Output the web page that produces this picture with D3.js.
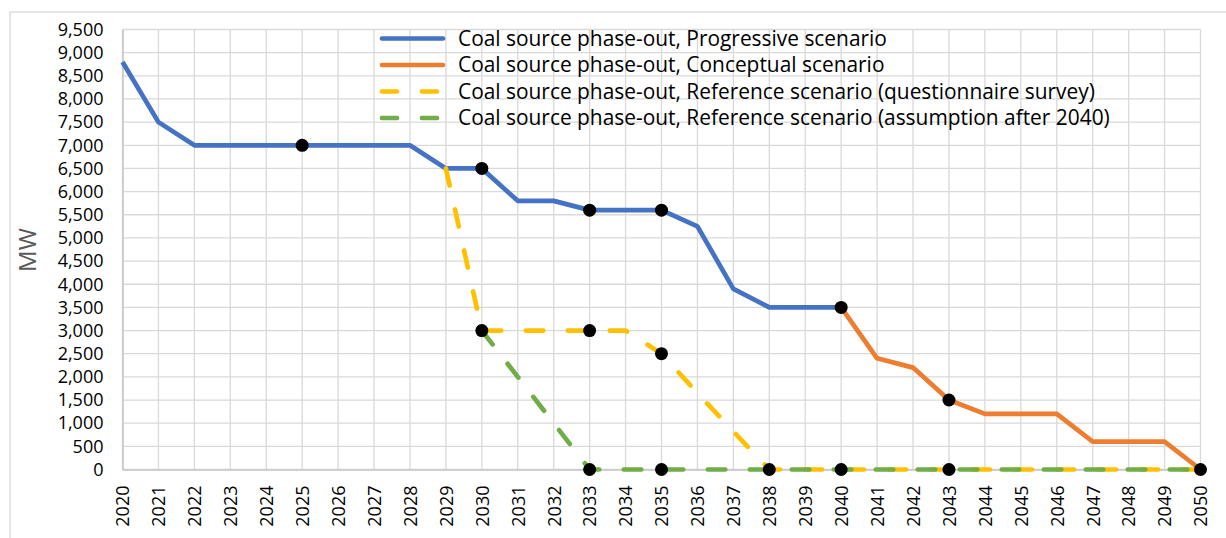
<!DOCTYPE html>
<html><head><meta charset="utf-8">
<script src="https://cdn.jsdelivr.net/npm/d3@7"></script>
<style>html,body{margin:0;padding:0;background:#fff;overflow:hidden}</style>
</head><body>
<svg id="c" width="1226" height="538"></svg>
<script>
const years = d3.range(2020, 2051);
const progressive = [8800,7500,7000,7000,7000,7000,7000,7000,7000,6500,6500,5800,5800,5600,5600,5600,5250,3900,3500,3500,3500,null,null,null,null,null,null,null,null,null,null];
const conceptual = [null,null,null,null,null,null,null,null,null,null,null,null,null,null,null,null,null,null,null,null,3500,2400,2200,1500,1200,1200,1200,600,600,600,0];
const refSurvey = [null,null,null,null,null,null,null,null,null,6500,3000,3000,3000,3000,3000,2500,1650,820,0,0,0,0,0,0,0,0,0,0,0,0,0];
const refAssumption = [null,null,null,null,null,null,null,null,null,null,3000,2000,1000,0,0,0,0,0,0,0,0,0,0,0,0,0,0,0,0,0,0];
const markers = [[2025,7000],[2030,6500],[2030,3000],[2033,5600],[2033,3000],[2033,0],[2035,5600],[2035,2500],[2035,0],[2038,0],[2040,3500],[2040,0],[2043,1500],[2043,0],[2050,0]];
const yTicks = d3.range(0, 9501, 500);
const seriesNames = ["Coal source phase-out, Progressive scenario","Coal source phase-out, Conceptual scenario","Coal source phase-out, Reference scenario (questionnaire survey)","Coal source phase-out, Reference scenario (assumption after 2040)"];
const colors = ["#4472C4","#ED7D31","#FFC000","#70AD47"];
const dashed = [false,false,true,true];

const svg = d3.select("#c");
const font = "'Open Sans', sans-serif";
svg.append("rect").attr("x",10).attr("y",12).attr("width",1230).attr("height",540).attr("fill","none").attr("stroke","#d9d9d9").attr("stroke-width",1.3);

const x = d3.scaleLinear().domain([2020,2050]).range([122.5,1200.5]);
const y = d3.scaleLinear().domain([0,9500]).range([469.5,29.5]);

// grid
const g = svg.append("g");
g.selectAll(".hg").data(yTicks).enter().append("line")
 .attr("x1",x(2020)).attr("x2",x(2050)).attr("y1",d=>y(d)).attr("y2",d=>y(d))
 .attr("stroke","#d9d9d9").attr("stroke-width",1.3);
g.selectAll(".vg").data(years).enter().append("line")
 .attr("x1",d=>x(d)).attr("x2",d=>x(d)).attr("y1",y(0)).attr("y2",y(9500))
 .attr("stroke","#d9d9d9").attr("stroke-width",1.3);

// axes
const ya = svg.append("g").attr("transform",`translate(${x(2020)},0)`)
 .call(d3.axisLeft(y).tickValues(yTicks).tickSize(0).tickPadding(19).tickFormat(d3.format(",")));
ya.select(".domain").attr("stroke","#c6c6c6").attr("stroke-width",1.5);
ya.selectAll("text").attr("font-family",font).attr("font-size",18).attr("fill","#000");

const xa = svg.append("g").attr("transform",`translate(0,${y(0)})`)
 .call(d3.axisBottom(x).tickValues(years).tickSize(0).tickFormat(d3.format("d")));
xa.select(".domain").attr("stroke","#c6c6c6").attr("stroke-width",1.5);
xa.selectAll("text").attr("font-family",font).attr("font-size",18).attr("fill","#000")
 .attr("transform","rotate(-90)").attr("text-anchor","end").attr("x",-16).attr("y",0).attr("dy","0.35em");

svg.append("text").attr("transform","translate(36,250) rotate(-90)").attr("text-anchor","middle")
 .attr("font-family",font).attr("font-size",24).attr("fill","#595959").text("MW");

// lines
const allSeries = [progressive, conceptual, refSurvey, refAssumption];
const line = d3.line().defined(d=>d[1]!==null).x(d=>x(d[0])).y(d=>y(d[1]));
allSeries.forEach((s,i)=>{
  svg.append("path").datum(years.map((yr,j)=>[yr,s[j]]))
   .attr("d",line).attr("fill","none").attr("stroke",colors[i]).attr("stroke-width",4.7)
   .attr("stroke-linejoin","round").attr("stroke-linecap",dashed[i]?"round":"butt")
   .attr("stroke-dasharray",dashed[i]?"17.5,24.5":null);
});

svg.selectAll(".m").data(markers).enter().append("circle")
 .attr("cx",d=>x(d[0])).attr("cy",d=>y(d[1])).attr("r",6.5).attr("fill","#000");

// legend
const lg = svg.append("g");
seriesNames.forEach((n,i)=>{
  const yy = 38.5 + i*26.5;
  lg.append("line").attr("x1",382).attr("x2",443).attr("y1",yy).attr("y2",yy)
   .attr("stroke",colors[i]).attr("stroke-width",4.7).attr("stroke-linecap","round")
   .attr("stroke-dasharray",dashed[i]?"15,25":null);
  lg.append("text").attr("x",458).attr("y",yy).attr("dy","0.35em")
   .attr("font-family",font).attr("font-size",20.9).attr("fill","#000").text(n);
});
</script>
</body></html>
